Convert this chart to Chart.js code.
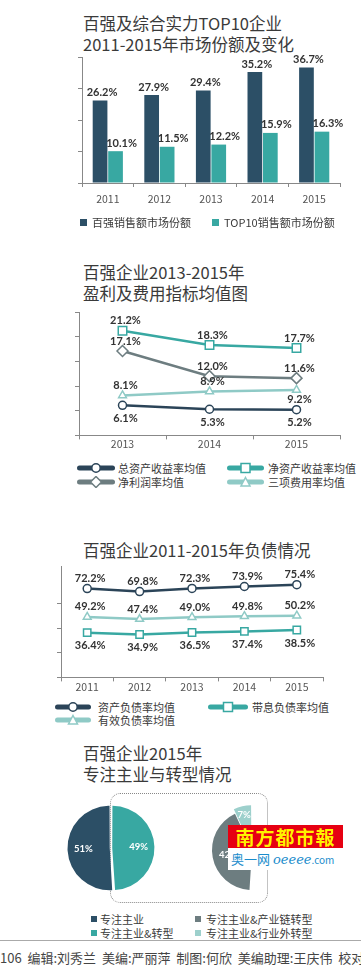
<!DOCTYPE html>
<html lang="zh">
  <head>
    <meta charset="UTF-8" />
    <meta name="viewport" content="width=device-width, initial-scale=1.0" />
    <script src="https://cdn.jsdelivr.net/npm/chart.js@4.4.0/dist/chart.umd.min.js"></script>
    <title>百强企业</title>
    <style>
      body { margin: 0; background: #fff; font-family: "Noto Sans CJK SC", sans-serif; }
      #page { position: relative; width: 361px; height: 970px; overflow: hidden; }
      .title { position: absolute; left: 83px; font-size: 16.5px; line-height: 20.5px; color: #3a3a3a; white-space: nowrap; }
      .box { position: absolute; }
      .lg { position: absolute; font-size: 11px; line-height: 14px; color: #3a3a3a; white-space: nowrap; }
      .sq { position: absolute; width: 7px; height: 7px; }
      .frame { position: absolute; left: 110px; top: 793px; width: 156px; height: 108px; border: 1.5px dotted #888; border-radius: 10px; }
      .wm1 { position: absolute; left: 228px; top: 825px; width: 115px; height: 23px; background: #e60012; color: #fff200; font-weight: bold; font-size: 19px; line-height: 23px; text-align: center; letter-spacing: 1px; }
      .wm2 { position: absolute; left: 228px; top: 848px; width: 115px; height: 22px; background: #fff; color: #1a8ccc; font-size: 13px; line-height: 22px; padding-left: 3px; box-sizing: border-box; white-space: nowrap; }
      .rule { position: absolute; left: 0; top: 940px; width: 361px; height: 1px; background: #aaa; }
      .foot { position: absolute; left: 0; top: 949px; font-size: 13px; line-height: 18px; color: #444; white-space: pre; }
    </style>
  </head>
  <body>
    <div id="page">
      <div class="title" style="top: 13px">百强及综合实力TOP10企业<br />2011-2015年市场份额及变化</div>
      <div class="box" style="left: 0; top: 45px"><canvas id="share" width="361" height="170"></canvas></div>
      <div class="sq" style="left: 80px; top: 219px; background: #2c4f66"></div>
      <div class="lg" style="left: 92px; top: 215px">百强销售额市场份额</div>
      <div class="sq" style="left: 212px; top: 219px; background: #38a8a2"></div>
      <div class="lg" style="left: 224px; top: 215px">TOP10销售额市场份额</div>

      <div class="title" style="top: 262px">百强企业2013-2015年<br />盈利及费用指标均值图</div>
      <div class="box" style="left: 0; top: 300px"><canvas id="profit" width="361" height="150"></canvas></div>
      <div id="legend2"></div>

      <div class="title" style="top: 540px">百强企业2011-2015年负债情况</div>
      <div class="box" style="left: 0; top: 560px"><canvas id="debt" width="361" height="135"></canvas></div>
      <div id="legend3"></div>

      <div class="title" style="top: 743px">百强企业2015年<br />专注主业与转型情况</div>
      <div class="frame"></div>
      <div class="box" style="left: 55px; top: 792px"><canvas id="focus" width="112" height="112"></canvas></div>
      <div class="box" style="left: 192px; top: 790px"><canvas id="transform" width="120" height="120"></canvas></div>
      <div class="wm1">南方都市報</div>
      <div class="wm2">奥一网 <i style="font-family: 'DejaVu Serif', serif">oeeee</i><span style="font-size: 10px">.com</span></div>
      <div id="legend4"></div>

      <div class="rule"></div>
      <div class="foot">106  编辑:刘秀兰  美编:严丽萍  制图:何欣  美编助理:王庆伟  校对</div>
    </div>
    <script>
      // market share, 2011-2015
      const shareYears = ["2011", "2012", "2013", "2014", "2015"];
      const top100Share = [26.2, 27.9, 29.4, 35.2, 36.7];
      const top10Share = [10.1, 11.5, 12.2, 15.9, 16.3];

      // profit and cost indicators, 2013-2015
      const profitYears = ["2013", "2014", "2015"];
      const roaAvg = [6.1, 5.3, 5.2];
      const roeAvg = [21.2, 18.3, 17.7];
      const netMarginAvg = [17.1, 12.0, 11.6];
      const expenseRateAvg = [8.1, 8.9, 9.2];

      // debt, 2011-2015
      const debtYears = ["2011", "2012", "2013", "2014", "2015"];
      const assetLiabilityAvg = [72.2, 69.8, 72.3, 73.9, 75.4];
      const interestDebtAvg = [36.4, 34.9, 36.5, 37.4, 38.5];
      const effectiveDebtAvg = [49.2, 47.4, 49.0, 49.8, 50.2];

      // focus vs transformation, 2015
      const focusLabels = ["专注主业", "专注主业&转型"];
      const focusShare = [51, 49];
      const transformLabels = ["专注主业&产业链转型", "专注主业&行业外转型", "专注主业"];
      const transformShare = [42, 7, 51];

      const DARK = "#2c4f66", TEAL = "#38a8a2", NAVY = "#2b4458", GREY = "#6d7d80", LIGHT = "#8fcac6";

      Chart.defaults.font.family = '"Noto Sans CJK SC", sans-serif';
      Chart.defaults.animation = false;
      Chart.defaults.plugins.legend.display = false;
      Chart.defaults.plugins.tooltip.enabled = false;

      // number labels next to bars / points
      const valueLabels = {
        id: "valueLabels",
        afterDatasetsDraw(chart) {
          const ctx = chart.ctx;
          ctx.save();
          ctx.font = 'bold 11px Lato, "Noto Sans CJK SC", sans-serif';
          ctx.fillStyle = "#333";
          ctx.textAlign = "center";
          ctx.textBaseline = "middle";
          chart.data.datasets.forEach((ds, i) => {
            chart.getDatasetMeta(i).data.forEach((el, j) => {
              const below = ds.labelBelow && ds.labelBelow[j];
              const dy = below ? ds.belowGap || 13 : -(ds.aboveGap || 10);
              ctx.fillText(ds.data[j].toFixed(1) + "%", el.x + (ds.labelDx || 3), el.y + dy);
            });
          });
          ctx.restore();
        },
      };

      // percent labels inside pie slices
      const sliceLabels = {
        id: "sliceLabels",
        afterDatasetsDraw(chart) {
          const ctx = chart.ctx;
          const ds = chart.data.datasets[0];
          ctx.save();
          ctx.font = 'bold 9.5px Lato, "Noto Sans CJK SC", sans-serif';
          ctx.fillStyle = "#fff";
          ctx.textAlign = "center";
          ctx.textBaseline = "middle";
          chart.getDatasetMeta(0).data.forEach((el, j) => {
            if (ds.showLabel && !ds.showLabel[j]) return;
            const mid = (el.startAngle + el.endAngle) / 2;
            const off = Array.isArray(ds.offset) ? ds.offset[j] : ds.offset || 0;
            const r = el.outerRadius * (ds.labelRatio || 0.55) + off;
            ctx.fillText(ds.data[j] + "%", el.x + Math.cos(mid) * r, el.y + Math.sin(mid) * r);
          });
          ctx.restore();
        },
      };

      function axes(yMax, yStep, xPad, xTick) {
        return {
          x: {
            offset: true,
            grid: { drawOnChartArea: false, offset: true, tickLength: xTick, color: "#888" },
            border: { color: "#888" },
            ticks: { color: "#555", font: { size: 10.5 }, padding: xPad },
          },
          y: {
            min: 0,
            max: yMax,
            grid: { drawOnChartArea: false, tickLength: 4, color: "#888" },
            border: { color: "#888" },
            ticks: { display: false, stepSize: yStep },
            afterBuildTicks: (s) => { s.ticks = s.ticks.filter((t) => t.value % yStep === 0); },
          },
        };
      }

      function lineSet(label, data, color, pointStyle, radius, extra) {
        return Object.assign(
          {
            label, data,
            borderColor: color,
            borderWidth: 2.5,
            pointStyle,
            pointRadius: radius,
            pointBorderWidth: 1.5,
            pointBackgroundColor: "#fff",
            pointBorderColor: color,
            tension: 0,
          },
          extra
        );
      }

      new Chart(document.getElementById("share"), {
        type: "bar",
        data: {
          labels: shareYears,
          datasets: [
            { label: "百强销售额市场份额", data: top100Share, backgroundColor: DARK, aboveGap: 8, labelDx: 2 },
            { label: "TOP10销售额市场份额", data: top10Share, backgroundColor: TEAL, aboveGap: 8, labelDx: 6 },
          ],
        },
        options: {
          responsive: false,
          categoryPercentage: 0.6,
          barPercentage: 0.95,
          layout: { padding: { left: 78, right: 21, top: 12, bottom: 3.4 } },
          scales: axes(40, 10, 6, 4),
        },
        plugins: [valueLabels],
      });

      new Chart(document.getElementById("profit"), {
        type: "line",
        data: {
          labels: profitYears,
          datasets: [
            lineSet("总资产收益率均值", roaAvg, NAVY, "circle", 4, { labelBelow: [true, true, true] }),
            lineSet("净资产收益率均值", roeAvg, TEAL, "rect", 6, {}),
            lineSet("净利润率均值", netMarginAvg, GREY, "rectRot", 5.5, {}),
            lineSet("三项费用率均值", expenseRateAvg, LIGHT, "triangle", 4.5, { labelBelow: [false, false, true], belowGap: 9 }),
          ],
        },
        options: {
          responsive: false,
          layout: { padding: { left: 75, right: 21, top: 12, bottom: 2 } },
          scales: axes(25, 5, -2, 4),
        },
        plugins: [valueLabels],
      });

      new Chart(document.getElementById("debt"), {
        type: "line",
        data: {
          labels: debtYears,
          datasets: [
            lineSet("资产负债率均值", assetLiabilityAvg, NAVY, "circle", 4, {}),
            lineSet("带息负债率均值", interestDebtAvg, TEAL, "rect", 5.2, { labelBelow: [true, true, true, true, true] }),
            lineSet("有效负债率均值", effectiveDebtAvg, LIGHT, "triangle", 4.5, {}),
          ],
        },
        options: {
          responsive: false,
          layout: { padding: { left: 57, right: 38, top: 6, bottom: 3 } },
          scales: axes(90, 20, -1, 4),
        },
        plugins: [valueLabels],
      });

      new Chart(document.getElementById("focus"), {
        type: "pie",
        data: {
          labels: focusLabels,
          datasets: [{ data: focusShare, backgroundColor: [DARK, TEAL], borderWidth: 0, offset: 5, radius: 41 }],
        },
        options: { responsive: false, rotation: 176.4 },
        plugins: [sliceLabels],
      });

      new Chart(document.getElementById("transform"), {
        type: "pie",
        data: {
          labels: transformLabels,
          datasets: [
            {
              data: transformShare,
              backgroundColor: [GREY, "#9dd0cc", "rgba(0,0,0,0)"],
              borderWidth: 0,
              offset: [0, 12, 0],
              radius: 40,
              showLabel: [true, true, false],
              labelRatio: 0.6,
            },
          ],
        },
        options: { responsive: false, rotation: 183.6 },
        plugins: [sliceLabels],
      });

      // legends with line + marker icons
      function icon(color, shape, w) {
        const c = w / 2;
        let m = "";
        if (shape === "circle") m = `<circle cx="${c}" cy="6" r="4.2" fill="#fff" stroke="${color}" stroke-width="1.5"/>`;
        if (shape === "rect") m = `<rect x="${c - 4.5}" y="1.5" width="9" height="9" fill="#fff" stroke="${color}" stroke-width="1.5"/>`;
        if (shape === "rectRot") m = `<polygon points="${c},0.5 ${c + 5.5},6 ${c},11.5 ${c - 5.5},6" fill="#fff" stroke="${color}" stroke-width="1.5"/>`;
        if (shape === "triangle") m = `<polygon points="${c},1.5 ${c + 4.5},10 ${c - 4.5},10" fill="#fff" stroke="${color}" stroke-width="1.5"/>`;
        return `<svg width="${w}" height="12" style="position:absolute;left:0;top:0"><line x1="2.5" y1="6" x2="${w - 2.5}" y2="6" stroke="${color}" stroke-width="5" stroke-linecap="round"/>${m}</svg>`;
      }

      function lineLegend(id, items) {
        document.getElementById(id).innerHTML = items
          .map(([text, color, shape, x, y, w, tx]) =>
            `<div class="lg" style="left:${x}px;top:${y - 6}px;width:${w}px;height:12px">${icon(color, shape, w)}</div>` +
            `<div class="lg" style="left:${tx}px;top:${y - 7}px">${text}</div>`)
          .join("");
      }

      lineLegend("legend2", [
        ["总资产收益率均值", NAVY, "circle", 77, 468, 38, 118],
        ["净资产收益率均值", TEAL, "rect", 227, 468, 37, 268],
        ["净利润率均值", GREY, "rectRot", 77, 482, 38, 118],
        ["三项费用率均值", LIGHT, "triangle", 227, 482, 37, 268],
      ]);

      lineLegend("legend3", [
        ["资产负债率均值", NAVY, "circle", 55, 707, 36, 98],
        ["带息负债率均值", TEAL, "rect", 208, 707, 40, 252],
        ["有效负债率均值", LIGHT, "triangle", 55, 720, 36, 98],
      ]);

      document.getElementById("legend4").innerHTML = [
        ["专注主业", DARK, 91, 919, 100],
        ["专注主业&产业链转型", GREY, 195, 919, 206],
        ["专注主业&转型", TEAL, 91, 933, 100],
        ["专注主业&行业外转型", "#9dd0cc", 195, 933, 206],
      ]
        .map(([text, color, x, y, tx]) =>
          `<div class="sq" style="left:${x}px;top:${y - 3}px;width:6px;height:6px;background:${color}"></div>` +
          `<div class="lg" style="left:${tx}px;top:${y - 7}px">${text}</div>`)
        .join("");
    </script>
  </body>
</html>
